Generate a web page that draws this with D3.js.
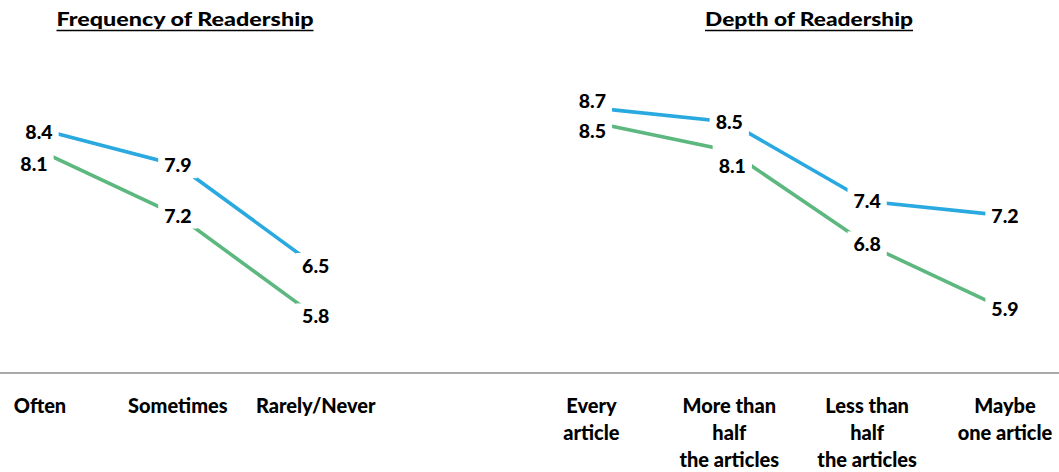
<!DOCTYPE html>
<html><head><meta charset="utf-8">
<script src="https://cdn.jsdelivr.net/npm/d3@7/dist/d3.min.js"></script>
<style>body{margin:0;background:#fff}svg{display:block}text{font-family:Lato,"Open Sans",sans-serif;font-weight:900;fill:#000}</style>
</head><body><svg id="c" width="1059" height="472"></svg>
<script>
const freqCats = ["Often", "Sometimes", "Rarely/Never"];
const depthCats = ["Every article", "More than half the articles", "Less than half the articles", "Maybe one article"];
const freqBlue = [8.4, 7.9, 6.5];
const freqGreen = [8.1, 7.2, 5.8];
const depthBlue = [8.7, 8.5, 7.4, 7.2];
const depthGreen = [8.5, 8.1, 6.8, 5.9];
const freqLabelLines = [["Often"], ["Sometimes"], ["Rarely/Never"]];
const depthLabelLines = [["Every", "article"], ["More than", "half", "the articles"], ["Less than", "half", "the articles"], ["Maybe", "one article"]];
const titles = ["Frequency of Readership", "Depth of Readership"];

const svg = d3.select("#c");
const allCats = [...freqCats, "__gap__", ...depthCats];
const x = d3.scalePoint().domain(allCats).range([40, 1005]);
const y = d3.scaleLinear().domain([5, 10]).range([374, 14]);
const BLUE = "#29a9df", GREEN = "#5cb87f";

// baseline axis
svg.append("line").attr("x1", 0).attr("x2", 1059).attr("y1", y(5) - 1).attr("y2", y(5) - 1)
  .attr("stroke", "#8c8c8c").attr("stroke-width", 1.5);

// titles
[[titles[0], 185, 257], [titles[1], 809, 208]].forEach(([t, cx, w]) => {
  svg.append("text").attr("x", cx).attr("y", 26).attr("text-anchor", "middle")
    .attr("font-size", 19).attr("textLength", w).attr("lengthAdjust", "spacingAndGlyphs").text(t);
  svg.append("line").attr("x1", cx - w / 2).attr("x2", cx + w / 2).attr("y1", 30.5).attr("y2", 30.5)
    .attr("stroke", "#000").attr("stroke-width", 1.5);
});

// label nudges (offsets to avoid overlap), keyed by panel/series/index
const nudge = { "f-b-0": [-1, 3], "f-g-0": [-6, 13], "d-b-0": [1, -7], "d-g-0": [1, 9], "d-g-1": [3, 15] };

function drawSeries(cats, vals, color, key) {
  const pts = cats.map((c, i) => [x(c), y(vals[i])]);
  svg.append("path").attr("d", d3.line()(pts)).attr("fill", "none")
    .attr("stroke", color).attr("stroke-width", 3.6).attr("stroke-linecap", "butt");
  return pts.map((p, i) => {
    const n = nudge[key + "-" + i] || [0, 0];
    return { px: p[0], py: p[1], x: p[0] + n[0], y: p[1] + n[1], v: vals[i] };
  });
}
const labels = [
  ...drawSeries(freqCats, freqBlue, BLUE, "f-b"),
  ...drawSeries(freqCats, freqGreen, GREEN, "f-g"),
  ...drawSeries(depthCats, depthBlue, BLUE, "d-b"),
  ...drawSeries(depthCats, depthGreen, GREEN, "d-g")
];
labels.forEach(l => {
  const g = svg.append("g");
  const r = g.append("rect").attr("fill", "#fff");
  const t = g.append("text").attr("x", l.x).attr("y", l.y + 7).attr("text-anchor", "middle")
    .attr("font-size", 19.5).text(d3.format(".1f")(l.v));
  const bb = t.node().getBBox();
  const top = Math.min(l.y, l.py + 2) - 13, bot = Math.max(l.y, l.py - 2) + 13;
  r.attr("x", bb.x - 6).attr("y", top).attr("width", bb.width + 12).attr("height", bot - top);
});

// category labels
[[freqCats, freqLabelLines], [depthCats, depthLabelLines]].forEach(([cats, lines]) => {
  cats.forEach((c, i) => {
    const t = svg.append("text").attr("x", x(c)).attr("y", 413).attr("text-anchor", "middle").attr("font-size", 20);
    lines[i].forEach((ln, j) => t.append("tspan").attr("x", x(c)).attr("dy", j ? 27 : 0).text(ln));
  });
});
</script></body></html>
